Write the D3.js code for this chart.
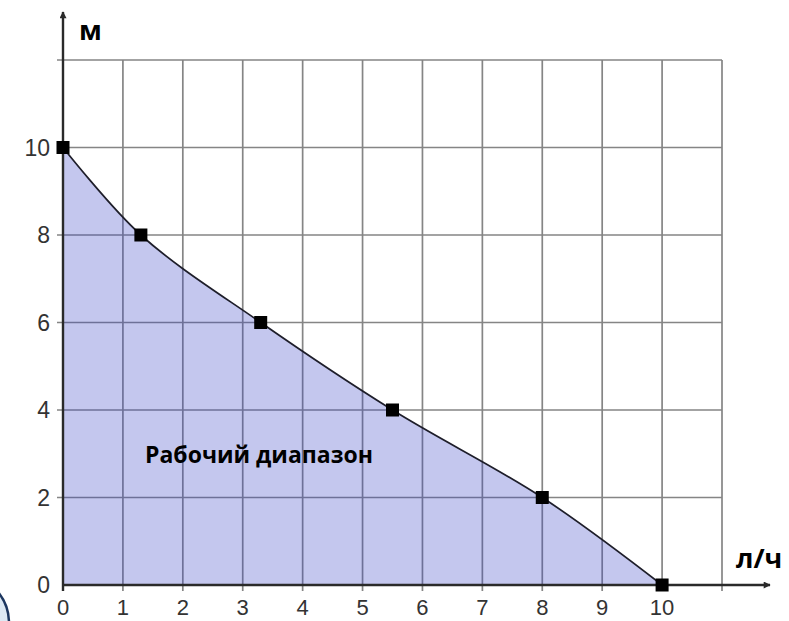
<!DOCTYPE html>
<html>
<head>
<meta charset="utf-8">
<script src="https://cdn.jsdelivr.net/npm/d3@7"></script>
<style>
  body { margin: 0; background: #fff; }
  svg { display: block; }
</style>
</head>
<body>
<script>
// flow (л/ч) vs head (м)
var flow = [0, 1.3, 3.3, 5.5, 8, 10];
var head = [10, 8, 6, 4, 2, 0];
var xTicks = [0, 1, 2, 3, 4, 5, 6, 7, 8, 9, 10];
var yTicks = [0, 2, 4, 6, 8, 10];
var xGrid = [1, 2, 3, 4, 5, 6, 7, 8, 9, 10, 11];
var yGrid = [2, 4, 6, 8, 10, 12];

var width = 789,
    height = 621;

const svg = d3.select("body")
    .append("svg")
    .attr("width", width)
    .attr("height", height);

var x = d3.scaleLinear().domain([0, 11]).range([63, 722]);
var y = d3.scaleLinear().domain([0, 12]).range([585, 60]);

var points = flow.map((f, i) => ({x: f, y: head[i]}));

// little blue circle cut off in the corner
svg.append("circle")
    .attr("cx", -40)
    .attr("cy", 623)
    .attr("r", 49)
    .attr("fill", "#dde9f4")
    .attr("stroke", "#1d3760")
    .attr("stroke-width", 2.5);

// grid
var grid = svg.append("g")
    .attr("stroke", "#858585")
    .attr("stroke-width", 1.7);

grid.selectAll(".v")
    .data(xGrid)
    .join("line")
    .attr("x1", d => x(d))
    .attr("x2", d => x(d))
    .attr("y1", y(12))
    .attr("y2", y(0) + 6);

grid.selectAll(".h")
    .data(yGrid)
    .join("line")
    .attr("x1", x(0) - 6)
    .attr("x2", x(11))
    .attr("y1", d => y(d))
    .attr("y2", d => y(d));

// working range area
var curve = d3.curveCatmullRom.alpha(0.5);

svg.append("path")
    .datum(points)
    .attr("d", d3.area()
        .x(d => x(d.x))
        .y0(y(0))
        .y1(d => y(d.y))
        .curve(curve))
    .attr("fill", "#3a45c8")
    .attr("fill-opacity", 0.3);

svg.append("path")
    .datum(points)
    .attr("d", d3.line()
        .x(d => x(d.x))
        .y(d => y(d.y))
        .curve(curve))
    .attr("fill", "none")
    .attr("stroke", "#1e1e2a")
    .attr("stroke-width", 1.7);

// axes with arrows
svg.append("defs").append("marker")
    .attr("id", "arrow")
    .attr("viewBox", "0 0 10 10")
    .attr("refX", 9)
    .attr("refY", 5)
    .attr("markerWidth", 8)
    .attr("markerHeight", 7)
    .attr("markerUnits", "userSpaceOnUse")
    .attr("orient", "auto")
    .append("path")
    .attr("d", "M0,0 L10,5 L0,10 Z")
    .attr("fill", "#2a2a2a");

svg.append("line")
    .attr("x1", x(0)).attr("x2", 770)
    .attr("y1", y(0)).attr("y2", y(0))
    .attr("stroke", "#2a2a2a")
    .attr("stroke-width", 2.4)
    .attr("marker-end", "url(#arrow)");

svg.append("line")
    .attr("x1", x(0)).attr("x2", x(0))
    .attr("y1", y(0) + 6).attr("y2", 12)
    .attr("stroke", "#2a2a2a")
    .attr("stroke-width", 2.4)
    .attr("marker-end", "url(#arrow)");

// tick labels
svg.append("g")
    .selectAll("text")
    .data(xTicks)
    .join("text")
    .attr("x", d => x(d))
    .attr("y", 615)
    .attr("text-anchor", "middle")
    .attr("font-family", "Liberation Sans, Arial, sans-serif")
    .attr("font-size", 22)
    .attr("fill", "#333")
    .text(d => d);

svg.append("g")
    .selectAll("text")
    .data(yTicks)
    .join("text")
    .attr("x", 50)
    .attr("y", d => y(d) + 8)
    .attr("text-anchor", "end")
    .attr("font-family", "Liberation Sans, Arial, sans-serif")
    .attr("font-size", 23)
    .attr("fill", "#333")
    .text(d => d);

// markers
svg.append("g")
    .selectAll("rect")
    .data(points)
    .join("rect")
    .attr("x", d => x(d.x) - 6.5)
    .attr("y", d => y(d.y) - 6.5)
    .attr("width", 13)
    .attr("height", 13)
    .attr("fill", "#000");

// axis titles and label
svg.append("text")
    .attr("x", 79)
    .attr("y", 40)
    .attr("font-family", "Open Sans, sans-serif")
    .attr("font-weight", "bold")
    .attr("font-size", 27)
    .attr("fill", "#000")
    .text("м");

svg.append("text")
    .attr("x", 736)
    .attr("y", 568)
    .attr("font-family", "Open Sans, sans-serif")
    .attr("font-weight", "bold")
    .attr("font-size", 27)
    .attr("fill", "#000")
    .text("л/ч");

svg.append("text")
    .attr("x", 145)
    .attr("y", 463)
    .attr("font-family", "Open Sans, sans-serif")
    .attr("font-weight", "bold")
    .attr("font-size", 23)
    .attr("fill", "#000")
    .text("Рабочий диапазон");
</script>
</body>
</html>
